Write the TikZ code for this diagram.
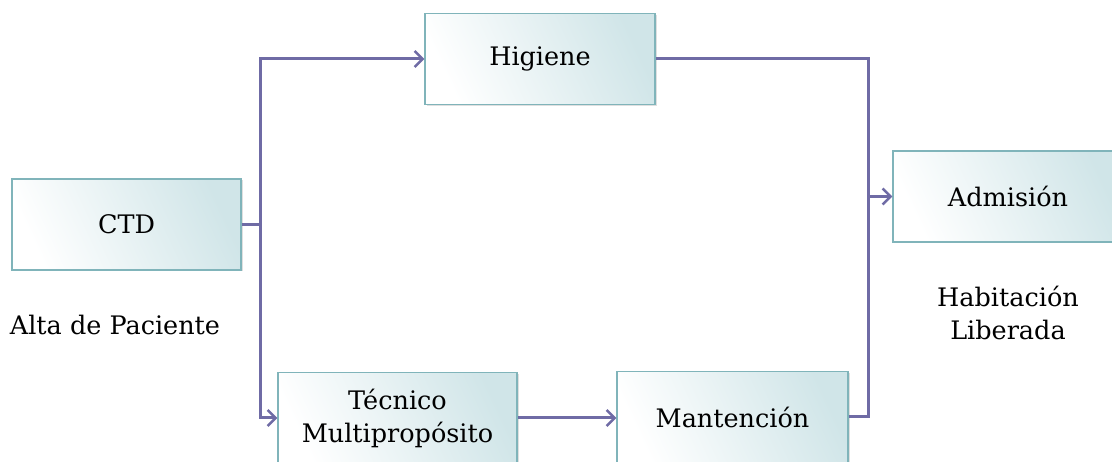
\documentclass[tikz,border=0pt]{standalone}
\usepackage{fontspec}
\setmainfont{DejaVu Serif}
\usetikzlibrary{arrows.meta,shadows}
\definecolor{flowline}{HTML}{6F6BA5}
\definecolor{boxedge}{HTML}{80B4BA}
\definecolor{boxfill}{HTML}{D0E5E8}
\tikzset{
  stagebox/.style={draw=boxedge, line width=1.1pt, left color=white, right color=boxfill,
    shading angle=115, minimum height=91pt, align=center,
    font=\fontsize{25.5}{33}\selectfont,
    drop shadow={shadow xshift=1.5pt, shadow yshift=-1.5pt, opacity=0.25}},
  flow/.style={draw=flowline, line width=3pt, -{Straight Barb[length=8pt,width=16pt,line width=2.6pt]}},
  plain/.style={draw=flowline, line width=3pt},
  caption/.style={align=center, font=\fontsize{25.5}{33}\selectfont}
}
\begin{document}
\begin{tikzpicture}[x=1pt,y=-1pt]
  \useasboundingbox (0,0) rectangle (1112,462);
  \fill[white] (0,0) rectangle (1112,462);

  % stages
  \node[stagebox, minimum width=229pt] (ctd) at (126.5,224.5) {CTD};
  \node[stagebox, minimum width=230pt] (hig) at (540,59) {Higiene};
  \node[stagebox, minimum width=230pt] (adm) at (1008,196.5) {Admisión};
  \node[stagebox, minimum width=239pt] (tec) at (397.5,418) {Técnico\\Multipropósito};
  \node[stagebox, minimum width=231pt] (man) at (732.5,417) {Mantención};

  % labels
  \node[caption] (alta) at (115,325) {Alta de Paciente};
  \node[caption] (hab) at (1008,313) {Habitación\\Liberada};

  % branch and merge points
  \coordinate (split) at (260,224.5);
  \coordinate (join) at (868,196.5);

  % connectors
  \draw[plain] (ctd.east) -- (split);
  \draw[flow] (split) |- (hig.west);
  \draw[flow] (split) |- (tec.west);
  \draw[flow] (tec.east) -- (tec.east -| man.west);
  \draw[plain] (hig.east) -| (join);
  \draw[plain] (man.east) -| (join);
  \draw[flow] (join) -- (adm.west);
\end{tikzpicture}
\end{document}
